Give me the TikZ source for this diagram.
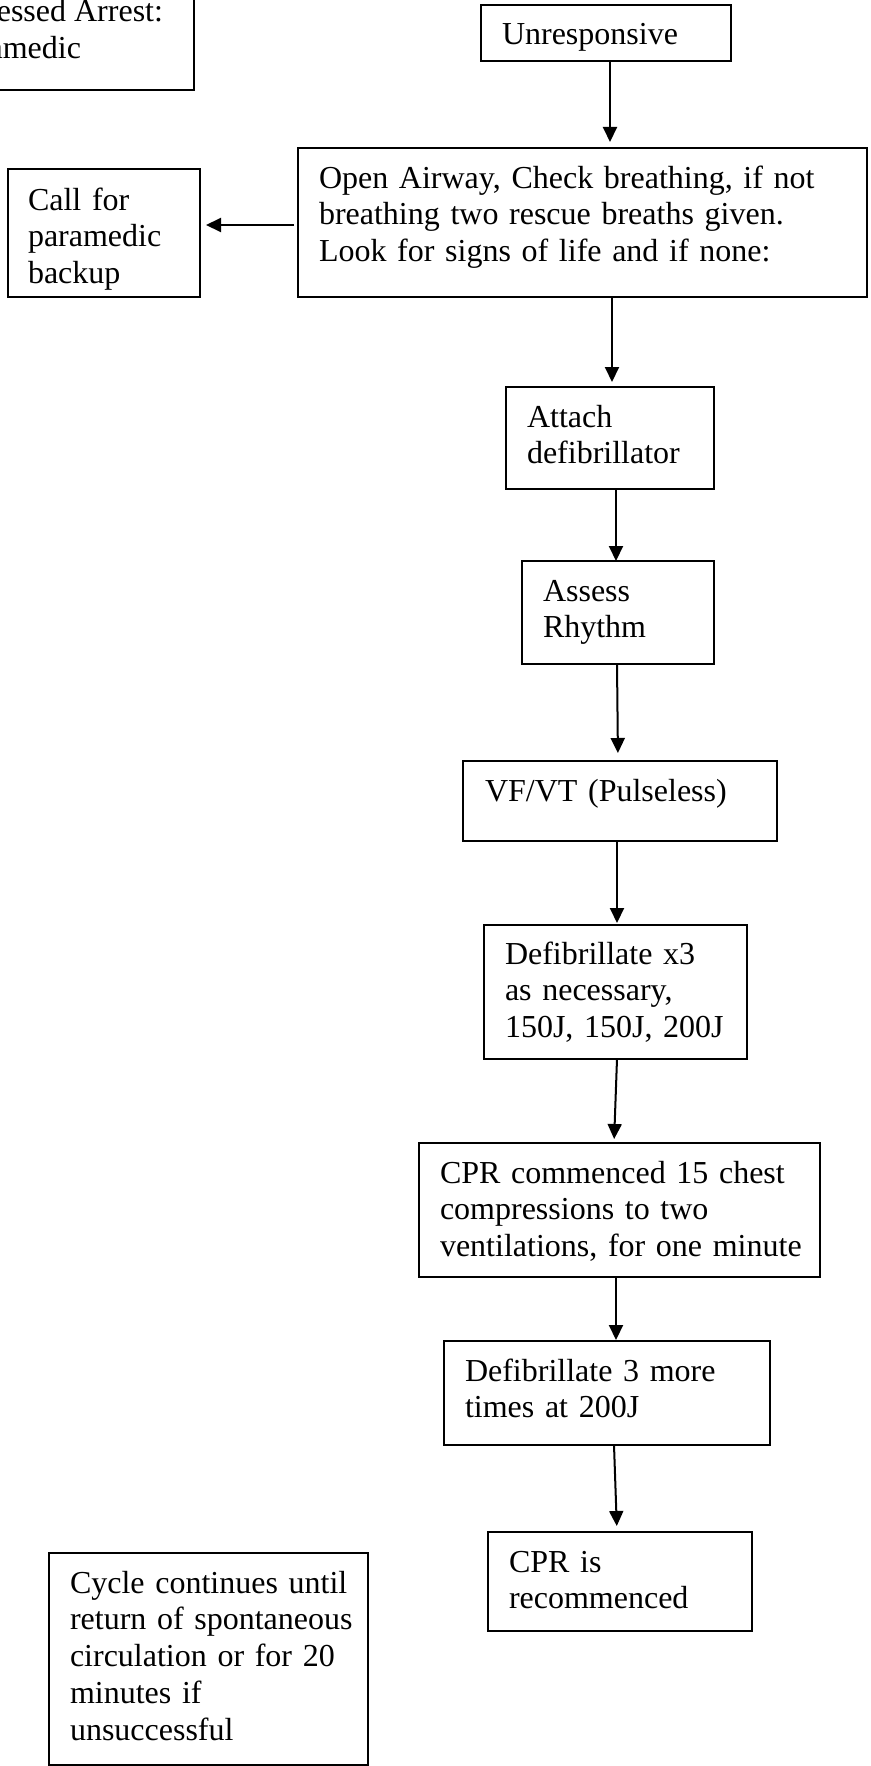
\documentclass[tikz,border=0pt]{standalone}
\usepackage{fontspec}
\setmainfont{Liberation Serif}
\usetikzlibrary{arrows.meta}
\newcommand\flowbox[5]{%
  \node[box,anchor=north west,minimum width={(#4-#2)*1pt},minimum height={(#5-#3)*1pt}] (#1) at (#2,#3) {};}
\begin{document}
\begin{tikzpicture}[x=1pt,y=-1pt,
  box/.style={draw,line width=2pt,inner sep=0pt,outer sep=0pt},
  txt/.style={anchor=base west,inner sep=0pt,outer sep=0pt,text width=700pt,align=left,font=\fontsize{32}{36.8}\selectfont},
  txtr/.style={anchor=base east,inner sep=0pt,outer sep=0pt,font=\fontsize{32}{36.8}\selectfont},
  arr/.style={line width=2pt,-{Triangle[length=15pt,width=14pt]}}]
\clip (0,0) rectangle (870,1766);
\fill[white] (0,0) rectangle (870,1766);

% boxes
\flowbox{topleft}{-30}{-30}{194}{90}
\flowbox{unresp}{481}{5}{731}{61}
\flowbox{open}{298}{148}{867}{297}
\flowbox{call}{8}{169}{200}{297}
\flowbox{attach}{506}{387}{714}{489}
\flowbox{assess}{522}{561}{714}{664}
\flowbox{vf}{463}{761}{777}{841}
\flowbox{defib}{484}{925}{747}{1059}
\flowbox{cpr}{419}{1143}{820}{1277}
\flowbox{defibmore}{444}{1341}{770}{1445}
\flowbox{cpris}{488}{1532}{752}{1631}
\flowbox{cycle}{49}{1553}{368}{1765}

% texts
\node[txtr] (tl1) at (163,22) {essed Arrest:};
\node[txtr] (tl2) at (81,58.8) {amedic};
\node[txt] (t-unresp) at (502,44.5) {Unresponsive};
\node[txt] (t-open) at (319,188) {Open Airway, Check breathing, if not\\breathing two rescue breaths given.\\Look for signs of life and if none:};
\node[txt] (t-call) at (28,210) {Call for\\paramedic\\backup};
\node[txt] (t-attach) at (527,427) {Attach\\defibrillator};
\node[txt] (t-assess) at (543,601) {Assess\\Rhythm};
\node[txt] (t-vf) at (485,801) {VF/VT (Pulseless)};
\node[txt] (t-defib) at (505,964) {Defibrillate x3\\as necessary,\\150J, 150J, 200J};
\node[txt] (t-cpr) at (440,1183) {CPR commenced 15 chest\\compressions to two\\ventilations, for one minute};
\node[txt] (t-defibmore) at (465,1381) {Defibrillate 3 more\\times at 200J};
\node[txt] (t-cpris) at (509,1572) {CPR is\\recommenced};
\node[txt] (t-cycle) at (70,1593) {Cycle continues until\\return of spontaneous\\circulation or for 20\\minutes if\\unsuccessful};

% connectors
\draw[arr,shorten >=6pt] ([xshift=4pt]unresp.south) -- ([xshift=4pt]unresp.south |- open.north);
\draw[arr,shorten <=4pt,shorten >=6pt] ([yshift=-2.5pt]open.west) -- ([yshift=-2.5pt]open.west -| call.east);
\draw[arr,shorten >=5pt] ([xshift=2pt]attach.north |- open.south) -- ([xshift=2pt]attach.north);
\draw[arr] ([xshift=-2pt]assess.north |- attach.south) -- ([xshift=-2pt]assess.north);
\draw[arr,shorten >=8pt] ([xshift=-1pt]assess.south) -- ([xshift=-2pt]vf.north);
\draw[arr,shorten >=2pt] ([xshift=-3pt]vf.south) -- ([xshift=-3pt]vf.south |- defib.north);
\draw[arr,shorten >=4pt] ([xshift=1.5pt]defib.south) -- ([xshift=-5.5pt]cpr.north);
\draw[arr,shorten >=1pt] ([xshift=-3.5pt]cpr.south) -- ([xshift=-3.5pt]cpr.south |- defibmore.north);
\draw[arr,shorten >=6pt] ([xshift=7pt]defibmore.south) -- ([xshift=-3pt]cpris.north);
\end{tikzpicture}
\end{document}
